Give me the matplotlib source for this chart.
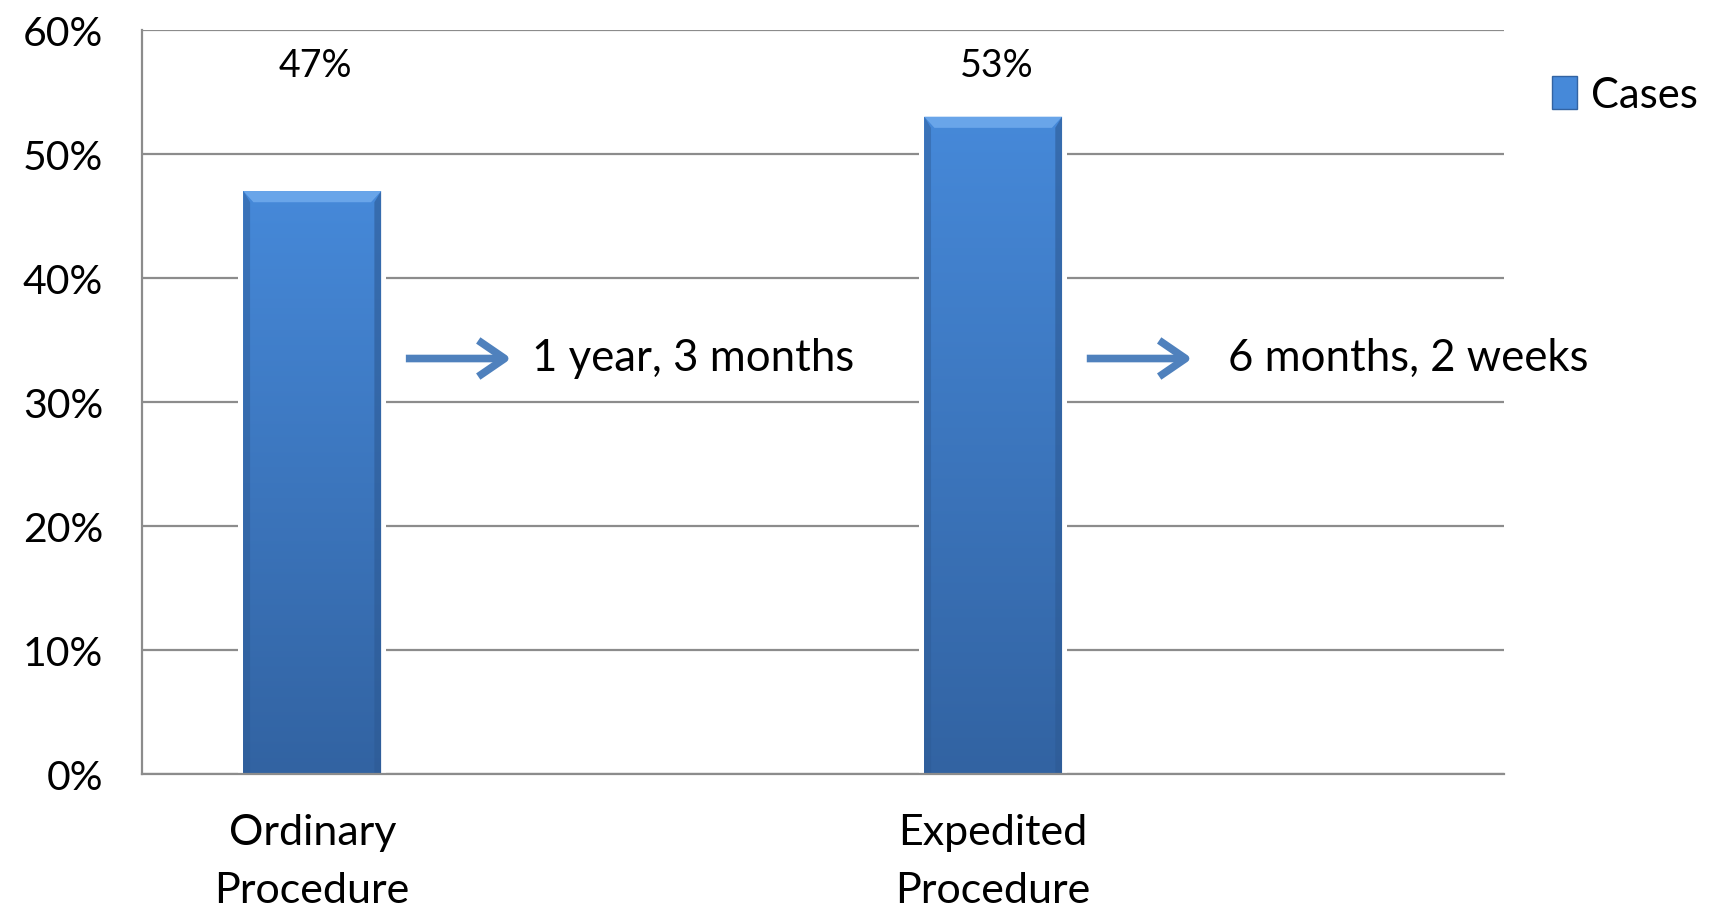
import numpy as np
import matplotlib
matplotlib.use("Agg")
import matplotlib.pyplot as plt
from matplotlib.patches import Patch, Polygon
from matplotlib.colors import LinearSegmentedColormap

categories = ["Ordinary\nProcedure", "Expedited\nProcedure"]
cases = [47, 53]
value_labels = ["47%", "53%"]
durations = ["1 year, 3 months", "6 months, 2 weeks"]
y_ticks = [0, 10, 20, 30, 40, 50, 60]
y_tick_labels = ["0%", "10%", "20%", "30%", "40%", "50%", "60%"]

plt.rcParams['font.family'] = ['Lato', 'DejaVu Sans']

fig = plt.figure(figsize=(17.13, 9.12), dpi=100)
ax = fig.add_axes([0.0829, 0.1502, 0.795, 0.816])

positions = [0, 2]
text_offsets = [0.645, 0.69]
bar_w = 0.405
top_col = "#4689d9"
bot_col = "#3263a2"
cmap = LinearSegmentedColormap.from_list("bar", [bot_col, top_col])

ax.set_xlim(-0.5, 3.5)
ax.set_ylim(0, 60)

for x, v in zip(positions, cases):
    ax.bar(x, v + 0.3, bar_w + 0.03, color="white", zorder=2, linewidth=0)
    bars = ax.bar(x, v, bar_w, color=top_col, zorder=3, linewidth=0)
    rect = bars[0]
    grad = np.linspace(0, 1, 256).reshape(-1, 1)
    im = ax.imshow(grad, cmap=cmap, origin="lower", aspect="auto",
                   extent=[x - bar_w / 2, x + bar_w / 2, 0, v], zorder=4)
    im.set_clip_path(rect)
    bw = bar_w / 2
    ax.add_patch(Polygon([(x - bw, v), (x + bw, v), (x + bw - 0.03, v - 0.9),
                          (x - bw + 0.03, v - 0.9)], closed=True,
                         facecolor="#6ea9ec", edgecolor="none", zorder=5, alpha=0.9))
    ax.add_patch(Polygon([(x - bw, 0), (x - bw, v), (x - bw + 0.02, v - 0.9),
                          (x - bw + 0.02, 0)], closed=True,
                         facecolor="#2d5a94", edgecolor="none", zorder=5, alpha=0.45))
    ax.add_patch(Polygon([(x + bw, 0), (x + bw, v), (x + bw - 0.02, v - 0.9),
                          (x + bw - 0.02, 0)], closed=True,
                         facecolor="#2d5a94", edgecolor="none", zorder=5, alpha=0.6))

ax.set_xticks(positions)
ax.set_xticklabels(categories, fontsize=31, linespacing=1.65)
ax.tick_params(axis="x", length=0, pad=28)
ax.set_yticks(y_ticks)
ax.set_yticklabels(y_tick_labels, fontsize=29.5)
ax.tick_params(axis="y", length=0, pad=28)

ax.yaxis.grid(True, color="#8c8c8c", linewidth=1.6, zorder=1)
ax.set_axisbelow(True)
for s in ["top", "right"]:
    ax.spines[s].set_visible(False)
for s in ["left", "bottom"]:
    ax.spines[s].set_color("#8c8c8c")
    ax.spines[s].set_linewidth(1.6)
    ax.spines[s].set_zorder(6)

for x, lab in zip(positions, value_labels):
    ax.text(x + 0.01, 57.2, lab, ha="center", va="center", fontsize=27)

arrow_y = 33.5
for x, d, off in zip(positions, durations, text_offsets):
    ax.annotate("", xy=(x + 0.585, arrow_y), xytext=(x + 0.275, arrow_y),
                arrowprops=dict(arrowstyle="->,head_length=1.9,head_width=1.3",
                                color="#4f81bd", lw=5.5, shrinkA=0, shrinkB=0,
                                capstyle="butt", joinstyle="round"))
    ax.text(x + off, arrow_y + 0.1, d, ha="left", va="center", fontsize=31.5)

handles = [Patch(facecolor=top_col, edgecolor="#3263a2", label="Cases")]
fig.legend(handles=handles, loc="center left", bbox_to_anchor=(0.896, 0.895),
           frameon=False, fontsize=30, handlelength=0.6, handleheight=0.85,
           handletextpad=0.35, borderaxespad=0)

fig.savefig("out.png", dpi=100)
